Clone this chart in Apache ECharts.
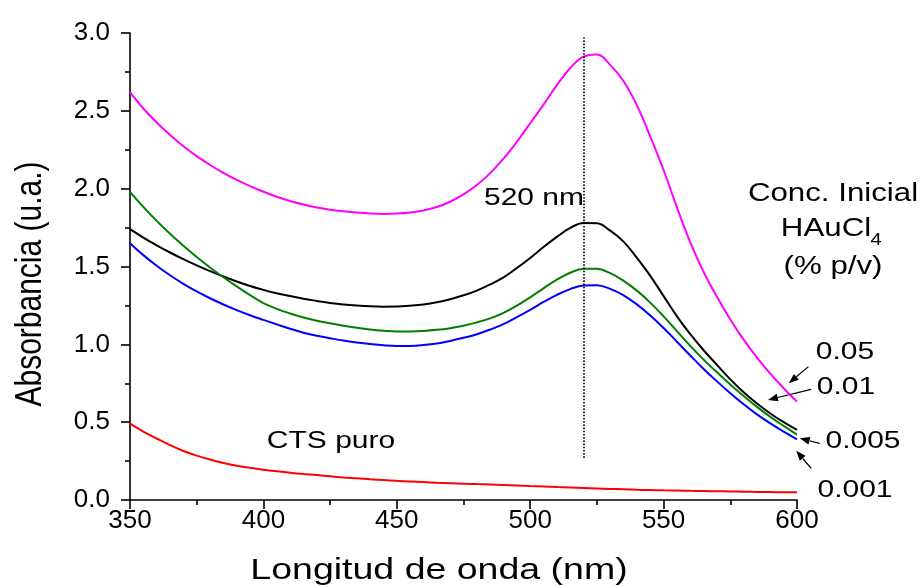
<!DOCTYPE html>
<html>
<head>
<meta charset="utf-8">
<script src="https://cdn.jsdelivr.net/npm/echarts@6/dist/echarts.min.js"></script>
<style>
  html, body { margin: 0; padding: 0; background: #ffffff; }
  #chart { width: 922px; height: 586px; }
</style>
</head>
<body>
<div id="chart"></div>
<script>
// Wavelength grid (nm) shared by all spectra
const wavelengths = [350, 355, 360, 365, 370, 375, 380, 385, 390, 395,
                     400, 405, 410, 415, 420, 425, 430, 435, 440, 445,
                     450, 455, 460, 465, 470, 475, 480, 485, 490, 495,
                     500, 505, 510, 515, 520, 525, 530, 535, 540, 545,
                     550, 555, 560, 565, 570, 575, 580, 585, 590, 595, 600];

// Absorbance spectra for each initial HAuCl4 concentration (% p/v)
const absConc005 = [2.62, 2.515, 2.425, 2.345, 2.273, 2.209, 2.152, 2.101, 2.056, 2.016,
                    1.98, 1.948, 1.921, 1.898, 1.879, 1.865, 1.855, 1.847, 1.841, 1.838,
                    1.84, 1.847, 1.86, 1.882, 1.916, 1.963, 2.023, 2.10, 2.193, 2.301,
                    2.42, 2.54, 2.665, 2.775, 2.848, 2.862, 2.795, 2.69, 2.535, 2.335,
                    2.12, 1.88, 1.655, 1.465, 1.305, 1.16, 1.03, 0.915, 0.812, 0.718, 0.632];
const absConc001 = [1.74, 1.686, 1.636, 1.59, 1.547, 1.507, 1.47, 1.436, 1.404, 1.375,
                    1.35, 1.328, 1.31, 1.293, 1.279, 1.266, 1.256, 1.249, 1.244, 1.242,
                    1.243, 1.248, 1.256, 1.27, 1.29, 1.315, 1.345, 1.385, 1.43, 1.49,
                    1.555, 1.625, 1.69, 1.748, 1.78, 1.778, 1.73, 1.66, 1.555, 1.44,
                    1.31, 1.18, 1.065, 0.962, 0.868, 0.775, 0.692, 0.62, 0.556, 0.50, 0.45];
const absConc0005 = [1.98, 1.883, 1.793, 1.71, 1.633, 1.561, 1.494, 1.431, 1.372, 1.316,
                     1.265, 1.228, 1.198, 1.172, 1.152, 1.135, 1.12, 1.107, 1.096, 1.088,
                     1.083, 1.083, 1.086, 1.093, 1.104, 1.12, 1.141, 1.167, 1.202, 1.248,
                     1.302, 1.36, 1.415, 1.46, 1.485, 1.485, 1.457, 1.408, 1.345, 1.268,
                     1.18, 1.085, 0.99, 0.902, 0.82, 0.742, 0.668, 0.598, 0.534, 0.476, 0.42];
const absConc0001 = [1.65, 1.573, 1.505, 1.444, 1.389, 1.34, 1.296, 1.256, 1.22, 1.187,
                     1.157, 1.128, 1.10, 1.075, 1.055, 1.039, 1.024, 1.012, 1.002, 0.994,
                     0.99, 0.99, 0.995, 1.005, 1.022, 1.042, 1.065, 1.095, 1.13, 1.175,
                     1.222, 1.272, 1.318, 1.355, 1.378, 1.38, 1.356, 1.315, 1.257, 1.186,
                     1.105, 1.017, 0.928, 0.842, 0.762, 0.686, 0.615, 0.55, 0.492, 0.439, 0.39];
const absCtsPuro = [0.49, 0.44, 0.395, 0.352, 0.315, 0.285, 0.26, 0.238, 0.22, 0.207,
                    0.195, 0.184, 0.175, 0.167, 0.16, 0.152, 0.145, 0.139, 0.133, 0.128,
                    0.123, 0.119, 0.115, 0.111, 0.108, 0.105, 0.102, 0.099, 0.096, 0.093,
                    0.09, 0.087, 0.083, 0.08, 0.077, 0.074, 0.071, 0.069, 0.066, 0.064,
                    0.062, 0.061, 0.059, 0.058, 0.056, 0.055, 0.053, 0.052, 0.051, 0.05, 0.049];

// Axis tick labels
const xTickLabels = ['350', '400', '450', '500', '550', '600'];
const yTickLabels = ['0.0', '0.5', '1.0', '1.5', '2.0', '2.5', '3.0'];

// Plasmon peak marker (nm) and its vertical extent (absorbance)
const peakWavelength = 520;
const peakLineSpan = [0.27, 2.98];

// Concentration labels and the arrows linking them to the curve ends (data units)
const concLabels = ['0.05', '0.01', '0.005', '0.001'];
const arrowTails = [[604.3, 0.857], [605.3, 0.711], [608.5, 0.364], [605.3, 0.204]];
const arrowHeads = [[596.9, 0.750], [589.1, 0.643], [601.0, 0.396], [599.7, 0.317]];

const FONT = 'Liberation Sans, Arial, sans-serif';
const pairs = arr => wavelengths.map((w, i) => [w, arr[i]]);

const chart = echarts.init(document.getElementById('chart'), null, { renderer: 'canvas' });

function spectrum(name, values, color, extra) {
  return Object.assign({
    name: name,
    type: 'line',
    data: pairs(values),
    smooth: 0.4,
    showSymbol: false,
    symbol: 'none',
    lineStyle: { color: color, width: 2 },
    itemStyle: { color: color },
    emphasis: { disabled: true },
    silent: true,
    z: 3
  }, extra || {});
}

// Annotation text: the font is drawn wide, so glyphs get a horizontal stretch
function label(text, x, y, size, opts) {
  return Object.assign({
    type: 'text',
    x: x, y: y,
    scaleX: 1.25,
    silent: true,
    style: {
      text: text, fontFamily: FONT, fontSize: size, fill: '#000',
      align: 'center', verticalAlign: 'middle'
    }
  }, opts || {});
}

const textGraphics = [
  label('Longitud de onda (nm)', 439, 571, 30),
  label('Absorbancia (u.a.)', 31, 284, 30, { scaleX: 1, scaleY: 1.2, rotation: Math.PI / 2 }),
  label('520 nm', 534, 198, 24),
  label('CTS puro', 331, 441, 24),
  label('Conc. Inicial', 833, 194, 25),
  label('HAuCl', 826, 229, 25),
  label('4', 876, 241, 16),
  label('(% p/v)', 833, 267, 25),
  label(concLabels[0], 845, 352, 24),
  label(concLabels[1], 846, 387, 24),
  label(concLabels[2], 863, 441, 24),
  label(concLabels[3], 855, 490, 24)
];

const axisCommon = {
  axisLine: { show: true, lineStyle: { color: '#000', width: 1.6 } },
  axisTick: { show: true, inside: false, length: 9, lineStyle: { color: '#000', width: 1.6 } },
  minorTick: { show: true, splitNumber: 2, length: 5, lineStyle: { color: '#000', width: 1.6 } },
  splitLine: { show: false }
};

const option = {
  animation: false,
  backgroundColor: '#ffffff',
  grid: { left: 130, right: 125, top: 33, bottom: 86, containLabel: false },
  xAxis: Object.assign({
    type: 'value',
    min: 350, max: 600, interval: 50,
    axisLabel: {
      margin: 8, color: '#000', fontFamily: FONT, fontSize: 26,
      formatter: v => xTickLabels[Math.round((v - 350) / 50)]
    }
  }, axisCommon),
  yAxis: Object.assign({
    type: 'value',
    min: 0, max: 3, interval: 0.5,
    axisLabel: {
      margin: 20, color: '#000', fontFamily: FONT, fontSize: 26,
      formatter: v => yTickLabels[Math.round(v / 0.5)]
    }
  }, axisCommon),
  series: [
    spectrum('0.05', absConc005, '#ff00ff'),
    spectrum('0.01', absConc001, '#000000'),
    spectrum('0.005', absConc0005, '#007f00'),
    spectrum('0.001', absConc0001, '#0000ff'),
    spectrum('CTS puro', absCtsPuro, '#ff0000', {
      markLine: {
        silent: true,
        animation: false,
        symbol: 'none',
        label: { show: false },
        emphasis: { disabled: true },
        lineStyle: { color: '#000', width: 1.6, type: 'dotted' },
        data: [[{ coord: [peakWavelength, peakLineSpan[0]] },
                { coord: [peakWavelength, peakLineSpan[1]] }]]
      }
    })
  ],
  graphic: textGraphics
};

chart.setOption(option);

// Arrows from each concentration label to its curve, placed through the axis scales
const arrowGraphics = [];
arrowTails.forEach((tail, i) => {
  const p0 = chart.convertToPixel({ gridIndex: 0 }, tail);
  const p1 = chart.convertToPixel({ gridIndex: 0 }, arrowHeads[i]);
  const dx = p1[0] - p0[0], dy = p1[1] - p0[1];
  const len = Math.hypot(dx, dy) || 1;
  const ux = dx / len, uy = dy / len;
  const headLen = 10, headHalf = 3.8;
  const bx = p1[0] - ux * headLen, by = p1[1] - uy * headLen;
  arrowGraphics.push({
    type: 'line', silent: true,
    shape: { x1: p0[0], y1: p0[1], x2: bx, y2: by },
    style: { stroke: '#000', lineWidth: 1.2 }
  });
  arrowGraphics.push({
    type: 'polygon', silent: true,
    shape: { points: [[p1[0], p1[1]], [bx - uy * headHalf, by + ux * headHalf], [bx + uy * headHalf, by - ux * headHalf]] },
    style: { fill: '#000' }
  });
});
chart.setOption({ graphic: textGraphics.concat(arrowGraphics) });
</script>
</body>
</html>
